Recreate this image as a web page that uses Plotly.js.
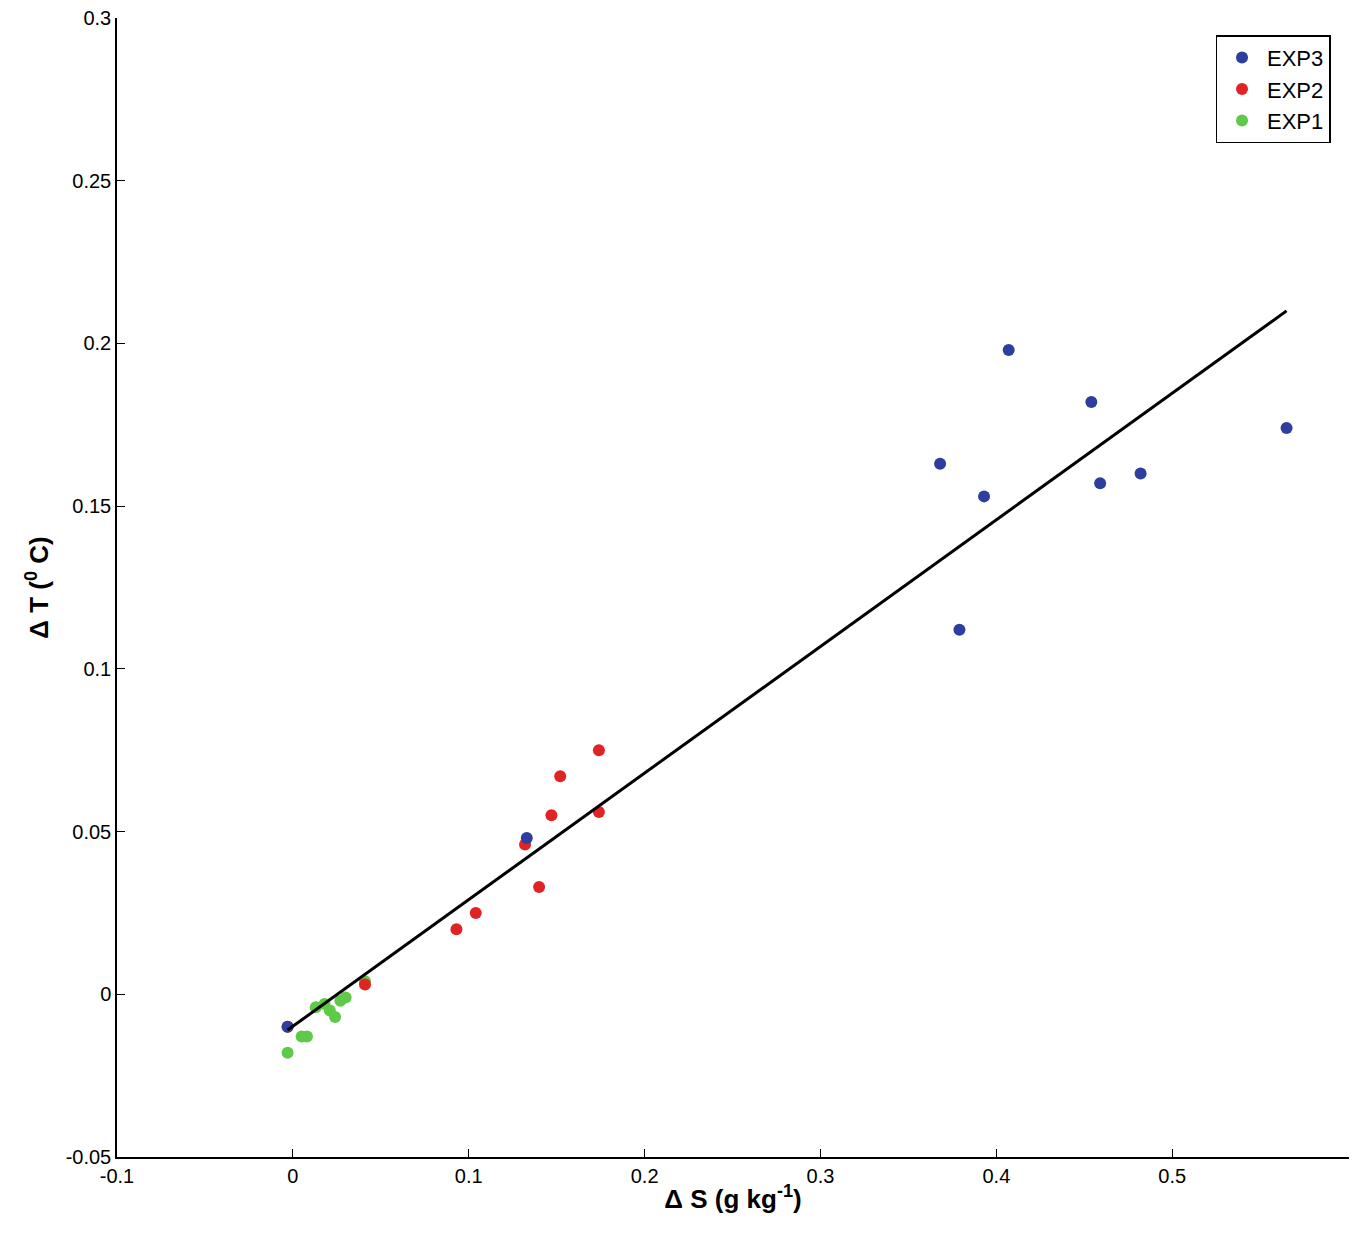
<!DOCTYPE html>
<html>
<head>
<script src="https://cdn.plot.ly/plotly-3.0.1.min.js"></script>
<style>body{margin:0;background:#fff}#plot{width:1360px;height:1236px}</style>
</head>
<body>
<div id="plot"></div>
<script>
// DATA
const exp3_x = [-0.003, 0.133, 0.368, 0.379, 0.393, 0.407, 0.454, 0.459, 0.482, 0.565];
const exp3_y = [-0.010, 0.048, 0.163, 0.112, 0.153, 0.198, 0.182, 0.157, 0.160, 0.174];
const exp2_x = [-0.003, 0.041, 0.093, 0.104, 0.132, 0.140, 0.147, 0.152, 0.174, 0.174];
const exp2_y = [-0.010, 0.003, 0.020, 0.025, 0.046, 0.033, 0.055, 0.067, 0.075, 0.056];
const exp1_x = [-0.003, 0.005, 0.008, 0.013, 0.018, 0.021, 0.024, 0.027, 0.030, 0.041];
const exp1_y = [-0.018, -0.013, -0.013, -0.004, -0.003, -0.005, -0.007, -0.002, -0.001, 0.004];
const fit_x = [-0.003, 0.565];
const fit_y = [-0.011, 0.210];

const x_ticks = [-0.1, 0, 0.1, 0.2, 0.3, 0.4, 0.5, 0.6];
const x_labels = ['-0.1', '0', '0.1', '0.2', '0.3', '0.4', '0.5', '0.6'];
const y_ticks = [-0.05, 0, 0.05, 0.1, 0.15, 0.2, 0.25, 0.3];
const y_labels = ['-0.05', '0', '0.05', '0.1', '0.15', '0.2', '0.25', '0.3'];

const mk = (name, x, y, color) => ({
    name: name, type: 'scatter', mode: 'markers', x: x, y: y,
    marker: {color: color, size: 12}
});

const data = [
    mk('EXP1', exp1_x, exp1_y, '#5fc94a'),
    mk('EXP2', exp2_x, exp2_y, '#e02424'),
    mk('EXP3', exp3_x, exp3_y, '#2c3e9e'),
    {type: 'scatter', mode: 'lines', x: fit_x, y: fit_y, showlegend: false,
     line: {color: '#000', width: 3}}
];

const axis = {
    showgrid: false, zeroline: false, showline: true, linecolor: '#000', linewidth: 1.5,
    ticks: 'inside', ticklen: 8, tickcolor: '#000', tickfont: {size: 20, color: '#000'}
};

const layout = {
    width: 1360, height: 1236,
    font: {family: 'Liberation Sans, Arial, sans-serif', color: '#000'},
    paper_bgcolor: '#fff', plot_bgcolor: '#fff',
    margin: {t: 18, r: 11, b: 79, l: 117},
    xaxis: Object.assign({}, axis, {range: [-0.1, 0.6005], tickvals: x_ticks, ticktext: x_labels,
        title: {text: '<b>Δ S (g kg<sup>-1</sup>)</b>', font: {size: 26}, standoff: 4}}),
    yaxis: Object.assign({}, axis, {range: [-0.05, 0.3], tickvals: y_ticks, ticktext: y_labels,
        title: {text: '<b>Δ T (<sup>0</sup> C)</b>', font: {size: 26}, standoff: 10}}),
    legend: {x: 0.985, y: 0.985, xanchor: 'right', yanchor: 'top', traceorder: 'reversed',
        bordercolor: '#000', borderwidth: 1.5, bgcolor: '#fff', font: {size: 22},
        tracegroupgap: 4, itemwidth: 40}
};

Plotly.newPlot('plot', data, layout, {displayModeBar: false});
</script>
</body>
</html>
